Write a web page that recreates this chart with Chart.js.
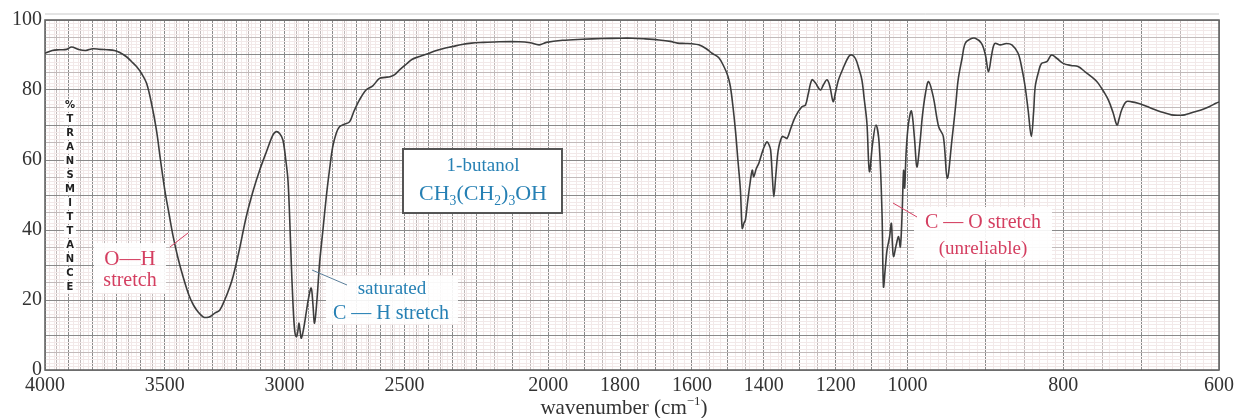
<!DOCTYPE html>
<html>
<head>
<meta charset="utf-8">
<script src="https://cdn.jsdelivr.net/npm/chart.js"></script>
<style>
  html, body { margin: 0; padding: 0; background: #fff; }
  #wrap { width: 1238px; height: 418px; position: relative; }
</style>
</head>
<body>
<div id="wrap"><canvas id="ir"></canvas></div>
<script>
// spectrum (cm-1, %T)
const wavenumbers = [
  4000, 3970, 3940, 3910, 3889, 3860, 3830, 3800, 3770, 3740, 3710, 3688, 3660, 3640, 3618, 3595, 3576, 3555, 3535, 3518,
  3500, 3482, 3465, 3445, 3424, 3400, 3380, 3360, 3340, 3326, 3310, 3290, 3271, 3250, 3230, 3215, 3190, 3160, 3130, 3104,
  3075, 3049, 3035, 3020, 3007, 2995, 2986, 2978, 2972, 2965, 2958, 2951, 2945, 2940, 2935, 2930, 2920, 2910, 2900, 2889,
  2882, 2875, 2865, 2854, 2840, 2826, 2812, 2799, 2785, 2771, 2750, 2729, 2710, 2688, 2660, 2632, 2604, 2580, 2560, 2542,
  2521, 2490, 2467, 2440, 2409, 2370, 2340, 2300, 2260, 2220, 2180, 2136, 2080, 2050, 2025, 2005, 1960, 1905, 1850, 1800,
  1766, 1730, 1692, 1660, 1640, 1618, 1600, 1581, 1560, 1544, 1525, 1510, 1500, 1493, 1486, 1479, 1472, 1465, 1460, 1455,
  1451, 1445, 1438, 1432, 1428, 1421, 1414, 1405, 1398, 1391, 1386, 1381, 1376, 1372, 1367, 1362, 1358, 1349, 1342, 1335,
  1325, 1312, 1294, 1284, 1276, 1266, 1256, 1249, 1242, 1234, 1224, 1216, 1207, 1200, 1192, 1180, 1164, 1155, 1145, 1135,
  1127, 1120, 1113, 1106, 1097, 1088, 1079, 1071, 1067, 1062, 1057, 1050, 1045, 1042, 1039, 1032, 1025, 1020, 1015, 1011,
  1008, 1004, 999, 995, 991, 988, 984, 981, 977, 973, 967, 960, 954, 949, 943, 938, 935, 930, 926, 920,
  913, 905, 900, 896, 892, 888, 881, 873, 866, 858, 853, 849, 845, 841, 838, 836, 832, 828, 821, 815,
  808, 800, 790, 781, 772, 759, 755, 748, 742, 736, 731, 728, 725, 719, 712, 704, 695, 687, 675, 661,
  650, 644, 635, 623, 612, 604, 600
];
const transmittance = [
  90.5, 91.3, 91.5, 91.6, 92.3, 91.6, 91.3, 91.8, 91.6, 91.5, 91.3, 90.7, 89.5, 88.2, 86.7, 84.5, 81.9, 76.0, 68.6, 60.0,
  51.4, 44.5, 38.1, 32.0, 26.7, 21.5, 18.5, 16.5, 15.2, 15.0, 15.3, 16.3, 17.1, 20.0, 23.5, 26.7, 34.0, 43.8, 51.5, 57.1,
  62.5, 67.1, 68.1, 67.5, 65.7, 60.0, 54.3, 42.0, 30.5, 19.0, 11.4, 9.5, 11.0, 13.4, 11.0, 9.1, 12.0, 16.3, 20.5, 23.4,
  19.0, 13.4, 20.0, 30.5, 40.0, 49.5, 57.5, 63.8, 67.5, 69.5, 70.2, 70.9, 74.0, 77.1, 80.0, 81.2, 83.3, 83.6, 83.8, 84.3,
  85.7, 87.5, 88.8, 89.5, 90.2, 91.2, 91.8, 92.4, 93.0, 93.4, 93.6, 93.8, 93.8, 93.5, 92.9, 93.6, 94.2, 94.5, 94.7, 94.8,
  94.8, 94.6, 94.3, 93.9, 93.4, 93.3, 93.2, 92.9, 91.8, 90.5, 89.2, 86.5, 84.0, 81.0, 75.5, 68.6, 60.0, 51.4, 40.5, 42.0,
  42.9, 48.0, 53.5, 57.1, 55.2, 57.5, 59.0, 62.0, 64.0, 65.2, 64.5, 62.9, 55.0, 49.5, 55.0, 61.0, 63.8, 66.7, 66.5, 66.2,
  69.0, 72.4, 75.2, 75.7, 79.0, 82.9, 82.0, 80.8, 80.0, 81.5, 82.9, 81.0, 76.7, 79.5, 82.9, 86.0, 89.5, 90.0, 89.0, 86.0,
  82.9, 77.0, 70.5, 56.7, 64.9, 70.0, 64.8, 44.8, 23.8, 29.0, 34.3, 38.0, 41.9, 36.0, 32.4, 35.5, 38.1, 35.2, 45.0, 57.0,
  52.0, 62.0, 70.0, 74.0, 66.0, 58.0, 65.0, 72.4, 79.0, 82.4, 78.1, 69.5, 66.7, 54.8, 65.7, 76.0, 82.9, 89.0, 93.3, 94.5,
  94.8, 93.3, 90.0, 85.2, 90.0, 93.3, 92.9, 93.3, 92.9, 90.5, 86.0, 81.0, 74.0, 66.7, 74.0, 81.0, 85.0, 87.6, 88.1, 90.0,
  89.0, 87.6, 87.0, 86.7, 85.2, 82.9, 81.9, 79.5, 77.1, 73.5, 70.0, 72.0, 74.3, 76.7, 76.6, 76.2, 75.5, 74.8, 73.8, 72.9,
  72.8, 72.9, 73.5, 74.3, 75.3, 76.2, 76.6
];
const xTickLabels = [4000, 3500, 3000, 2500, 2000, 1800, 1600, 1400, 1200, 1000, 800, 600];
const yTickLabels = [0, 20, 40, 60, 80, 100];

// the paper changes scale at 2200 and at 1000 cm-1
const breakWn = [4000, 2200, 1000, 600];
const breakFrac = [0, 432 / 1176, 864 / 1176, 1];

function wnToFrac(v) {
  for (let i = 0; i < breakWn.length - 1; i++) {
    const a = breakWn[i], b = breakWn[i + 1];
    if (v >= b || i === breakWn.length - 2) {
      return breakFrac[i] + (a - v) / (a - b) * (breakFrac[i + 1] - breakFrac[i]);
    }
  }
}
function fracToWn(f) {
  for (let i = 0; i < breakFrac.length - 1; i++) {
    if (f <= breakFrac[i + 1] || i === breakFrac.length - 2) {
      const t = (f - breakFrac[i]) / (breakFrac[i + 1] - breakFrac[i]);
      return breakWn[i] - t * (breakWn[i] - breakWn[i + 1]);
    }
  }
}

class SegmentedScale extends Chart.LinearScale {
  static id = 'segmented';
  static defaults = {};
  getPixelForValue(v) {
    return v === null ? NaN : this.getPixelForDecimal(wnToFrac(v));
  }
  getValueForPixel(p) {
    return fracToWn(this.getDecimalForPixel(p));
  }
}
Chart.register(SegmentedScale);

// grid positions of the chart paper
const xGrid = [];
for (let w = 4000; w > 2200; w -= 10) if (w % 20 === 0 || w % 50 === 0) xGrid.push(w);
for (let w = 2200; w > 1000; w -= 10) if (w % 20 === 0 || w % 50 === 0) xGrid.push(w);
for (let w = 1000; w >= 600; w -= 10) xGrid.push(w);
const yGrid = [];
for (let t = 0; t <= 100; t++) yGrid.push(t);

const SERIF = '"Liberation Serif", "DejaVu Serif", serif';
const RED = 'rgb(212, 62, 96)';
const BLUE = 'rgb(38, 128, 180)';

function gridColor(v, major, mid) {
  if (v % major === 0) return '#8a8a8a';
  if (v % mid === 0) return '#c2baba';
  return '#f2e9e9';
}

// draws text made of runs, some of them lowered or raised
function richText(ctx, parts, cx, y, size, color) {
  ctx.save();
  ctx.fillStyle = color;
  ctx.textBaseline = 'alphabetic';
  ctx.textAlign = 'left';
  let total = 0;
  parts.forEach(p => {
    ctx.font = (p.sub || p.sup ? size * 0.62 : size) + 'px ' + SERIF;
    p.w = ctx.measureText(p.t).width;
    total += p.w;
  });
  let x = cx - total / 2;
  parts.forEach(p => {
    ctx.font = (p.sub || p.sup ? size * 0.62 : size) + 'px ' + SERIF;
    const dy = p.sub ? size * 0.22 : (p.sup ? -size * 0.42 : 0);
    ctx.fillText(p.t, x, y + dy);
    x += p.w;
  });
  ctx.restore();
}

function leader(ctx, x1, y1, x2, y2, color) {
  ctx.save();
  ctx.strokeStyle = color;
  ctx.lineWidth = 1;
  ctx.beginPath();
  ctx.moveTo(x1, y1);
  ctx.lineTo(x2, y2);
  ctx.stroke();
  ctx.restore();
}

const paperPlugin = {
  id: 'paper',
  beforeDatasetsDraw(chart) {
    const ctx = chart.ctx;
    const a = chart.chartArea;
    ctx.save();
    // white patches behind the notes
    ctx.fillStyle = 'rgba(255,255,255,0.9)';
    ctx.fillRect(94, 243, 72, 50);
    ctx.fillRect(326, 276, 132, 48);
    ctx.fillRect(914, 207, 138, 53);
    for (let i = 0; i < 14; i++) ctx.fillRect(64, 99 + i * 14, 12, 12);
    // title box
    ctx.fillStyle = '#fff';
    ctx.fillRect(403, 149, 159, 64);
    ctx.strokeStyle = '#555';
    ctx.lineWidth = 2;
    ctx.strokeRect(403, 149, 159, 64);
    // frame
    ctx.strokeStyle = '#666';
    ctx.lineWidth = 1.6;
    ctx.strokeRect(a.left, a.top, a.right - a.left, a.bottom - a.top);
    // ruler along the top
    ctx.strokeStyle = '#c8c8c8';
    ctx.lineWidth = 1;
    ctx.beginPath();
    ctx.moveTo(a.left, 14);
    ctx.lineTo(a.right, 14);
    ctx.stroke();
    ctx.restore();
  },
  afterDatasetsDraw(chart) {
    const ctx = chart.ctx;
    const a = chart.chartArea;
    // vertical axis name, letters stacked
    const word = '%TRANSMITTANCE';
    ctx.save();
    ctx.fillStyle = '#222';
    ctx.font = 'bold 10px "DejaVu Sans", sans-serif';
    ctx.textAlign = 'center';
    ctx.textBaseline = 'middle';
    for (let i = 0; i < word.length; i++) ctx.fillText(word[i], 70, 105 + i * 14);
    ctx.restore();

    // compound box
    richText(ctx, [{ t: '1-butanol' }], 483, 171, 19, BLUE);
    richText(ctx, [{ t: 'CH' }, { t: '3', sub: true }, { t: '(CH' }, { t: '2', sub: true }, { t: ')' }, { t: '3', sub: true }, { t: 'OH' }], 483, 200, 22, BLUE);

    // O-H
    richText(ctx, [{ t: 'O\u2014H' }], 130, 265, 21, RED);
    richText(ctx, [{ t: 'stretch' }], 130, 286, 20, RED);
    leader(ctx, 170, 247, 188, 233, RED);

    // C-H
    richText(ctx, [{ t: 'saturated' }], 392, 294, 19, BLUE);
    richText(ctx, [{ t: 'C \u2014 H stretch' }], 391, 319, 20, BLUE);
    leader(ctx, 312, 270, 347, 285, '#5b7f9a');

    // C-O
    richText(ctx, [{ t: 'C \u2014 O stretch' }], 983, 228, 20, RED);
    richText(ctx, [{ t: '(unreliable)' }], 983, 254, 19, RED);
    leader(ctx, 893, 203, 917, 217, RED);

    // x axis name
    richText(ctx, [{ t: 'wavenumber (cm' }, { t: '\u22121', sup: true }, { t: ')' }], (a.left + a.right) / 2 - 8, 414, 21, '#333');
  }
};

new Chart(document.getElementById('ir'), {
  type: 'line',
  data: {
    datasets: [{
      data: wavenumbers.map((w, i) => ({ x: w, y: transmittance[i] })),
      borderColor: '#3d3d3d',
      borderWidth: 1.6,
      pointRadius: 0,
      tension: 0.35,
      fill: false
    }]
  },
  options: {
    responsive: true,
    maintainAspectRatio: false,
    animation: false,
    layout: { padding: { left: 0, right: 18, top: 20, bottom: 0 } },
    plugins: {
      legend: { display: false },
      tooltip: { enabled: false },
      title: { display: false }
    },
    scales: {
      x: {
        type: 'segmented',
        min: 600,
        max: 4000,
        afterBuildTicks: (scale) => { scale.ticks = xGrid.map(v => ({ value: v })); },
        afterFit: (scale) => { scale.height = 48; },
        border: { display: false },
        grid: {
          drawTicks: false,
          color: (c) => gridColor(c.tick.value, 100, 50),
          lineWidth: 1
        },
        ticks: {
          autoSkip: false,
          maxRotation: 0,
          minRotation: 0,
          padding: 4,
          color: '#333',
          font: { family: SERIF, size: 20 },
          callback: (v) => xTickLabels.includes(v) ? String(v) : ''
        }
      },
      y: {
        min: 0,
        max: 100,
        afterBuildTicks: (scale) => { scale.ticks = yGrid.map(v => ({ value: v })); },
        afterFit: (scale) => { scale.width = 45; },
        border: { display: false },
        grid: {
          drawTicks: false,
          color: (c) => gridColor(c.tick.value, 10, 5),
          lineWidth: 1
        },
        ticks: {
          autoSkip: false,
          padding: 3,
          color: '#333',
          font: { family: SERIF, size: 20 },
          callback: (v) => yTickLabels.includes(v) ? String(v) : ''
        }
      }
    }
  },
  plugins: [paperPlugin]
});
</script>
</body>
</html>
